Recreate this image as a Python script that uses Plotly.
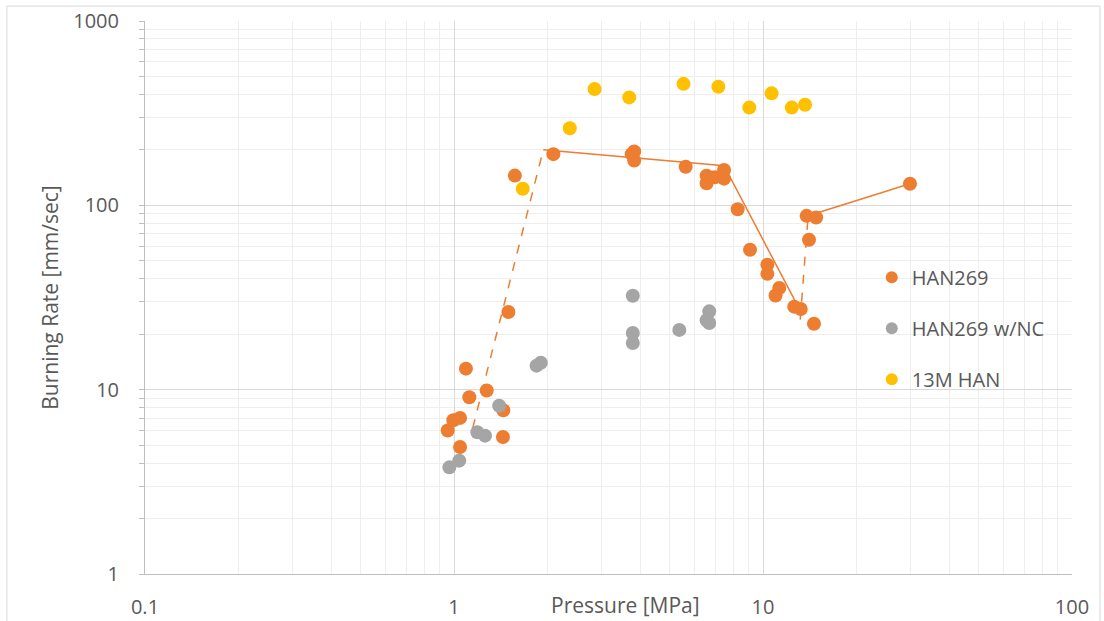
import plotly.graph_objects as go

# Burning rate measurements (pressure in MPa, rate in mm/sec)
han269_p = [0.954, 0.995, 1.046, 1.046, 1.093, 1.121, 1.276, 1.444, 1.44, 1.50,
            1.574, 2.097, 3.76, 3.83, 3.83, 5.62, 6.57, 6.57, 6.99, 7.48, 7.48,
            8.28, 9.08, 10.33, 10.33, 10.98, 11.29, 12.62, 13.25, 14.62, 14.09,
            13.84, 14.86, 29.9]
han269_r = [6.01, 6.83, 7.03, 4.89, 13.0, 9.09, 9.89, 7.73, 5.54, 26.4,
            145, 189.5, 189.5, 196, 175, 162, 144.6, 131.8, 142, 155.6, 139.6,
            95.3, 57.4, 47.6, 42.5, 32.4, 35.6, 28.2, 27.4, 22.8, 65.0,
            87.7, 85.9, 131]

han269nc_p = [0.966, 1.04, 1.19, 1.26, 1.40, 1.85, 1.91, 3.79, 3.79, 3.79,
              5.36, 6.70, 6.57, 6.70]
han269nc_r = [3.79, 4.12, 5.87, 5.63, 8.18, 13.5, 14.0, 32.3, 20.3, 17.9,
              21.1, 26.6, 23.8, 23.0]

han13m_p = [1.669, 2.37, 2.85, 3.69, 5.53, 7.17, 9.03, 10.66, 12.39, 13.68]
han13m_r = [123, 262, 427, 385, 456, 440, 339, 405, 339, 351]

# Trend segments for HAN269
trend_solid1_p = [1.945, 7.48, 13.25]
trend_solid1_r = [200, 164, 26.5]
trend_solid2_p = [14.0, 29.9]
trend_solid2_r = [87.7, 131]
trend_dash1_p = [1.15, 1.945]
trend_dash1_r = [6.2, 200]
trend_dash2_p = [13.2, 14.0]
trend_dash2_r = [24, 87.7]

ORANGE = "#ED7D31"
GRAY = "#A5A5A5"
YELLOW = "#FFC000"
TXT = "#595959"
FONT = "Open Sans"

fig = go.Figure()

for px_, ry, dash in [(trend_solid1_p, trend_solid1_r, "solid"),
                      (trend_solid2_p, trend_solid2_r, "solid"),
                      (trend_dash1_p, trend_dash1_r, "dash"),
                      (trend_dash2_p, trend_dash2_r, "dash")]:
    fig.add_trace(go.Scatter(x=px_, y=ry, mode="lines",
                             line=dict(color=ORANGE, width=1.5, dash=dash),
                             showlegend=False, hoverinfo="skip"))

marker_size = 14
fig.add_trace(go.Scatter(x=han269_p, y=han269_r, mode="markers", name="HAN269",
                         legendgroup="a",
                         marker=dict(color=ORANGE, size=marker_size)))
fig.add_trace(go.Scatter(x=han269nc_p, y=han269nc_r, mode="markers", name="HAN269 w/NC",
                         legendgroup="b",
                         marker=dict(color=GRAY, size=marker_size)))
fig.add_trace(go.Scatter(x=han13m_p, y=han13m_r, mode="markers", name="13M HAN",
                         legendgroup="c",
                         marker=dict(color=YELLOW, size=marker_size)))

axis_common = dict(
    type="log",
    dtick=1,
    showgrid=True,
    gridcolor="#d9d9d9",
    gridwidth=1,
    showline=True,
    linecolor="#bfbfbf",
    linewidth=1,
    zeroline=False,
    automargin=False,
    tickfont=dict(family=FONT, size=20, color=TXT),
    minor=dict(dtick="D1", showgrid=True, gridcolor="#eeeeee", gridwidth=1),
)

fig.update_xaxes(**axis_common, range=[-1, 2], ticks="", ticklabelstandoff=15,
                 tickvals=[0.1, 1, 10, 100], ticktext=["0.1", "1", "10", "100"])
fig.update_yaxes(**axis_common, range=[0, 3], ticks="outside", ticklen=5,
                 tickcolor="#bfbfbf", ticklabelstandoff=16,
                 tickvals=[1, 10, 100, 1000], ticktext=["1", "10", "100", "1000"],
                 title=dict(text="Burning Rate [mm/sec]", standoff=8,
                            font=dict(family=FONT, size=21, color=TXT)))
fig.update_yaxes(minor=dict(ticks="outside", ticklen=5, tickcolor="#bfbfbf"))

fig.add_annotation(x=0.518, y=-0.0555, xref="paper", yref="paper",
                   text="Pressure [MPa]", showarrow=False, yanchor="middle",
                   font=dict(family=FONT, size=21, color=TXT))

# outer chart frame
fig.add_shape(type="rect", xref="paper", yref="paper",
              x0=-0.149, x1=1.0302, y0=-0.2, y1=1.027,
              line=dict(color="#d9d9d9", width=1), layer="below")

fig.update_layout(
    width=1104, height=621,
    margin=dict(l=145, r=32, t=21, b=46.5),
    paper_bgcolor="white", plot_bgcolor="white",
    legend=dict(x=0.784, y=0.572, xanchor="left", yanchor="top",
                font=dict(family=FONT, size=20, color=TXT),
                bgcolor="rgba(0,0,0,0)", tracegroupgap=22,
                itemsizing="constant"),
    showlegend=True,
)

fig.write_html("out.html")
